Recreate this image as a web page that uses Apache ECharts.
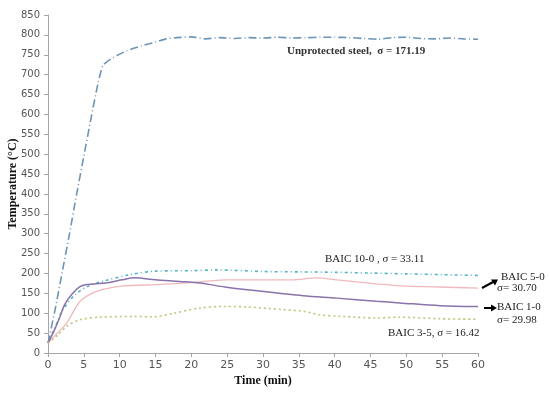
<!DOCTYPE html>
<html><head><meta charset="utf-8">
<script src="https://cdn.jsdelivr.net/npm/echarts@6/dist/echarts.min.js"></script>
<style>html,body{margin:0;padding:0;background:#fff}#c{width:550px;height:393px}</style>
</head><body><div id="c"></div>
<script>
// Data (time in minutes, temperature in °C)
const steelT = [0,1,2,3,4,5,6,7,7.7,9,11,13,15,16.5,18,20,22,24,26,28,30,32,34,36,38,40,42,44,46,48,50,52,54,56,58,60];
const steelV = [25,110,205,300,400,495,590,680,724,742,760,772,782,790,793,795,790,793,791,793,792,794,792,793,794,794,793,791,789,793,794,791,790,792,790,789];

const b10T = [0,1,2.1,3.8,5.6,8,11.4,15,20,23.6,30,35,40,45,50,55,60];
const b10V = [25,65,109,147,168,182,197,206,207,209,205,204,203,201,199,197,195];

const b1T = [0,0.9,1.6,2.3,3.3,4.4,5.4,8,10.3,12.1,15,18.4,21.2,24.7,29.8,35.6,40.3,45.8,49.1,54.7,60];
const b1V = [25,58,88,121,147,166,172,176,184,189,184,180,176,166,155,144,138,130,126,119,117];

const b5T = [0,1.2,2.6,4.5,6.8,10.3,15,20,24.7,29.8,34,37.5,40.3,45.8,49.1,54.7,60];
const b5V = [25,48,75,130,155,168,172,177,184,184,184,189,184,174,169,166,163];

const b35T = [0,1.4,2.6,4.5,7.3,12,14.7,17.5,21.2,24.4,27.7,32.8,35.6,37.9,41.1,45.8,49.1,54.7,60];
const b35V = [25,46,67,84,90,92,91,100,113,117,116,109,105,96,92,88,90,86,85];

const xTicks = [0,5,10,15,20,25,30,35,40,45,50,55,60];

const zip = (t, v) => t.map((x, i) => [x, v[i]]);

const chart = echarts.init(document.getElementById('c'));
const serif = 'Liberation Serif';
const lbl = {fontFamily: serif, fontSize: 11, fill: '#222'};
chart.setOption({
  animation: false,
  backgroundColor: '#fff',
  grid: {left: 48, right: 72, top: 15, bottom: 40, containLabel: false, outerBoundsMode: 'none'},
  xAxis: {
    type: 'value', min: 0, max: 60, interval: 5,
    name: 'Time (min)', nameLocation: 'middle', nameGap: 22, nameMoveOverlap: false,
    nameTextStyle: {fontFamily: serif, fontWeight: 'bold', fontSize: 12, color: '#111'},
    axisLine: {show: true, lineStyle: {color: '#a6a6a6'}},
    axisTick: {show: true, length: 4, lineStyle: {color: '#a6a6a6'}},
    axisLabel: {color: '#555', fontSize: 11, fontFamily: 'DejaVu Sans', margin: 7,
      formatter: v => xTicks.includes(v) ? String(v) : ''},
    splitLine: {show: false}
  },
  yAxis: {
    type: 'value', min: 0, max: 850, interval: 50,
    name: 'Temperature (°C)', nameLocation: 'middle', nameGap: 29, nameMoveOverlap: false,
    nameTextStyle: {fontFamily: serif, fontWeight: 'bold', fontSize: 12, color: '#111', padding: [0, 0, 0, 0]},
    axisLine: {show: true, lineStyle: {color: '#a6a6a6'}},
    axisTick: {show: true, length: 4, lineStyle: {color: '#a6a6a6'}},
    axisLabel: {color: '#555', fontSize: 10, fontFamily: 'DejaVu Sans', margin: 8},
    splitLine: {show: false}
  },
  series: [
    {name: 'Unprotected steel', type: 'line', data: zip(steelT, steelV), symbol: 'none', smooth: 0.2,
     lineStyle: {color: '#6c95b8', width: 1.6, type: [8, 3, 1, 3]}},
    {name: 'BAIC 10-0', type: 'line', data: zip(b10T, b10V), symbol: 'none', smooth: 0.3,
     lineStyle: {color: '#52b4c8', width: 1.6, type: [3, 3, 1, 3]}},
    {name: 'BAIC 5-0', type: 'line', data: zip(b5T, b5V), symbol: 'none', smooth: 0.3,
     lineStyle: {color: '#f2b9bd', width: 1.3}},
    {name: 'BAIC 1-0', type: 'line', data: zip(b1T, b1V), symbol: 'none', smooth: 0.3,
     lineStyle: {color: '#8a72ab', width: 1.5}},
    {name: 'BAIC 3-5', type: 'line', data: zip(b35T, b35V), symbol: 'none', smooth: 0.3,
     lineStyle: {color: '#c2c47c', width: 1.6, type: [2, 3]}}
  ],
  graphic: [
    {type: 'text', left: 287, top: 46, style: {text: 'Unprotected steel,  σ = 171.19', fontFamily: serif, fontSize: 11, fontWeight: 'bold', fill: '#333'}},
    {type: 'text', left: 325, top: 254, style: Object.assign({text: 'BAIC 10-0 , σ = 33.11'}, lbl)},
    {type: 'text', left: 501, top: 272, style: Object.assign({text: 'BAIC 5-0'}, lbl)},
    {type: 'text', left: 497, top: 283, style: Object.assign({text: 'σ= 30.70'}, lbl)},
    {type: 'text', left: 497, top: 302, style: Object.assign({text: 'BAIC 1-0'}, lbl)},
    {type: 'text', left: 497, top: 315, style: Object.assign({text: 'σ= 29.98'}, lbl)},
    {type: 'text', left: 388, top: 328, style: Object.assign({text: 'BAIC 3-5, σ = 16.42'}, lbl)},
    {type: 'line', shape: {x1: 482, y1: 288, x2: 494, y2: 281.5}, style: {stroke: '#000', lineWidth: 2}},
    {type: 'polygon', shape: {points: [[498, 279.5], [491, 279.5], [495, 285.5]]}, style: {fill: '#000'}},
    {type: 'line', shape: {x1: 484, y1: 308, x2: 492, y2: 308}, style: {stroke: '#000', lineWidth: 2}},
    {type: 'polygon', shape: {points: [[497, 308], [491, 304.5], [491, 311.5]]}, style: {fill: '#000'}}
  ]
});
</script></body></html>
